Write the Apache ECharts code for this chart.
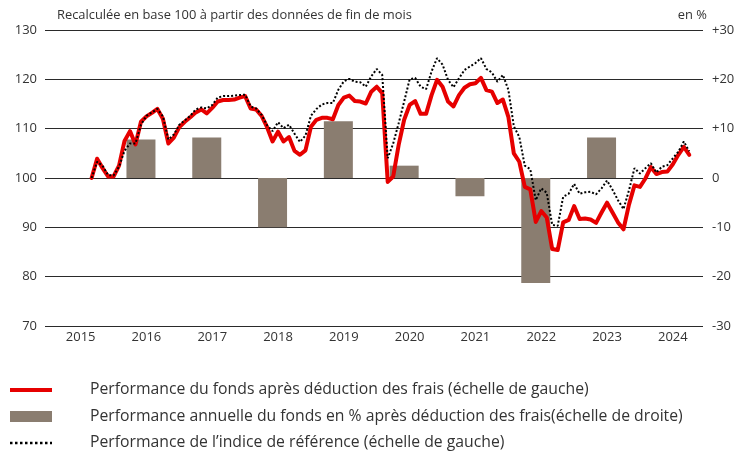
<!DOCTYPE html>
<html>
<head>
<meta charset="utf-8">
<script src="https://cdn.jsdelivr.net/npm/echarts@6/dist/echarts.min.js"></script>
<style>html,body{margin:0;padding:0;background:#fff}#c{width:748px;height:455px}</style>
</head>
<body>
<div id="c"></div>
<script>
// Monthly categories Jan 2015 .. Dec 2024
const years = ['2015','2016','2017','2018','2019','2020','2021','2022','2023','2024'];
const monthNums = ['01','02','03','04','05','06','07','08','09','10','11','12'];
const months = [];
years.forEach(y => monthNums.forEach(m => months.push(y + '-' + m)));

// Fund performance (left scale), month-end values from 2015-09 to 2024-10
const fundStart = '2015-09';
const fundValues = [
  100.0, 103.9, 102.0, 100.3, 100.3, 102.5, 107.5, 109.5, 106.8, 111.4,
  112.5, 113.2, 114.0, 112.0, 107.0, 108.2, 110.3, 111.4, 112.3, 113.3,
  113.9, 113.1, 114.2, 115.5, 115.8, 115.8, 115.9, 116.3, 116.6, 114.1,
  113.9, 112.6, 110.3, 107.4, 109.4, 107.4, 108.3, 105.5, 104.7, 105.6,
  110.4, 111.8, 112.2, 112.2, 111.9, 114.8, 116.3, 116.7, 115.6, 115.5,
  115.1, 117.5, 118.5, 117.2, 99.2, 100.3, 106.7, 111.8, 114.8, 115.6,
  113.0, 113.0, 116.8, 119.9, 118.5, 115.5, 114.5, 116.8, 118.3, 119.0,
  119.2, 120.3, 117.8, 117.5, 115.2, 115.9, 112.4, 105.0, 103.3, 98.2,
  97.7, 91.1, 93.3, 92.0, 85.6, 85.4, 91.0, 91.5, 94.3, 91.7,
  91.8, 91.6, 90.9, 93.0, 95.0, 93.0, 91.0, 89.6, 94.6, 98.5,
  98.2, 99.9, 102.2, 100.8, 101.2, 101.3, 102.8, 104.7, 106.3, 104.7
];
// Benchmark index (left scale), same months
const benchValues = [
  100.0, 103.3, 102.5, 100.6, 100.5, 102.3, 105.5, 107.0, 107.0, 110.8,
  112.6, 113.3, 114.0, 112.5, 107.8, 108.8, 110.8, 111.7, 112.6, 113.9,
  114.3, 114.1, 114.8, 116.3, 116.6, 116.6, 116.7, 116.8, 116.9, 114.5,
  114.1, 112.8, 110.7, 109.5, 111.3, 110.1, 110.8, 109.0, 107.3, 108.6,
  112.6, 114.0, 114.9, 115.2, 115.2, 117.9, 119.6, 120.1, 119.5, 119.4,
  118.5, 120.6, 122.1, 120.9, 104.0, 107.0, 111.1, 115.5, 120.0, 120.3,
  118.5, 118.0, 121.6, 124.3, 123.0, 119.9, 118.4, 120.2, 121.9, 122.6,
  123.3, 124.3, 122.1, 121.4, 119.5, 120.9, 117.9, 110.5, 108.3, 102.5,
  101.8, 95.5, 97.9, 97.0, 90.5, 90.3, 96.2, 96.8, 98.8, 96.8,
  97.1, 97.2, 96.7, 97.9, 99.5, 97.6, 95.5, 93.7, 97.5, 102.0,
  100.9, 102.0, 103.0, 101.1, 102.3, 102.6, 104.0, 105.3, 107.4, 105.4
];
// Annual fund performance in % (right scale)
const annualYears = ['2016','2017','2018','2019','2020','2021','2022','2023'];
const annualPerf = [7.8, 8.2, -10.0, 11.5, 2.5, -3.7, -21.3, 8.2];
const barMonth = '06';

const leftTicks = [70, 130, 10];
const rightTicks = [-30, 30, 10];

const fundName = 'Performance du fonds après déduction des frais (échelle de gauche)';
const barName = 'Performance annuelle du fonds en % après déduction des frais(échelle de droite)';
const benchName = 'Performance de l\u2019indice de référence (échelle de gauche)';

const off = months.indexOf(fundStart);
const fundData = months.map((m, i) => (i >= off && i - off < fundValues.length) ? fundValues[i - off] : '-');
const benchData = months.map((m, i) => (i >= off && i - off < benchValues.length) ? benchValues[i - off] : '-');
const barData = months.map(m => {
  const idx = annualYears.indexOf(m.slice(0, 4));
  return (m.slice(5) === barMonth && idx >= 0) ? annualPerf[idx] : '-';
});

const FONT = 'Open Sans';
const TXT = '#333333';
const hiddenSymbol = {opacity: 0};

const chart = echarts.init(document.getElementById('c'), null, {renderer: 'canvas'});
chart.setOption({
  animation: false,
  backgroundColor: '#ffffff',
  title: [
    {text: 'Recalculée en base 100 à partir des données de fin de mois', left: 57, top: 9, padding: 0,
     textStyle: {fontFamily: FONT, fontSize: 12.9, fontWeight: 'normal', color: TXT}},
    {text: 'en %', right: 41, top: 9, padding: 0,
     textStyle: {fontFamily: FONT, fontSize: 12.9, fontWeight: 'normal', color: TXT}}
  ],
  grid: {left: 45, right: 45, top: 30, bottom: 129, containLabel: false},
  legend: {
    orient: 'vertical', left: 8, top: 382, padding: 0, height: 73,
    itemWidth: 42, itemHeight: 11, itemGap: 10.5,
    selectedMode: false,
    data: [
      {name: fundName, itemStyle: hiddenSymbol, lineStyle: {width: 4, cap: 'butt'}},
      {name: barName, icon: 'rect'},
      {name: benchName, itemStyle: hiddenSymbol, lineStyle: {width: 2.5, type: [2.5, 2.5]}}
    ],
    textStyle: {fontFamily: FONT, fontSize: 15.75, color: TXT, padding: [0, 0, 0, 33], lineHeight: 15}
  },
  xAxis: {
    type: 'category', data: months, boundaryGap: true,
    axisLine: {show: false}, axisTick: {show: false}, splitLine: {show: false},
    axisLabel: {
      interval: (i) => i % 12 === 6,
      formatter: (v) => v.slice(0, 4),
      fontFamily: FONT, fontSize: 13, color: TXT, margin: 5
    }
  },
  yAxis: [
    {type: 'value', min: leftTicks[0], max: leftTicks[1], interval: leftTicks[2],
     axisLine: {show: false}, axisTick: {show: false},
     splitLine: {show: true, lineStyle: {color: '#2a2a2a', width: 1}},
     axisLabel: {fontFamily: FONT, fontSize: 13, color: TXT, margin: 8}},
    {type: 'value', min: rightTicks[0], max: rightTicks[1], interval: rightTicks[2],
     axisLine: {show: false}, axisTick: {show: false}, splitLine: {show: false},
     axisLabel: {fontFamily: FONT, fontSize: 13, color: TXT, margin: 9,
       formatter: (v) => v > 0 ? '+' + v : String(v)}}
  ],
  series: [
    {name: barName, type: 'bar', yAxisIndex: 1, data: barData, barWidth: 29,
     itemStyle: {color: '#8a7d70'}, z: 1},
    {name: fundName, type: 'line', data: fundData, symbol: 'none', connectNulls: false,
     lineStyle: {color: '#e60000', width: 4, cap: 'round', join: 'round'}, itemStyle: {color: '#e60000'}, z: 3},
    {name: benchName, type: 'line', data: benchData, symbol: 'none',
     lineStyle: {color: '#000000', width: 2, type: [2, 2]}, itemStyle: {color: '#000000'}, z: 4}
  ]
});
</script>
</body>
</html>
